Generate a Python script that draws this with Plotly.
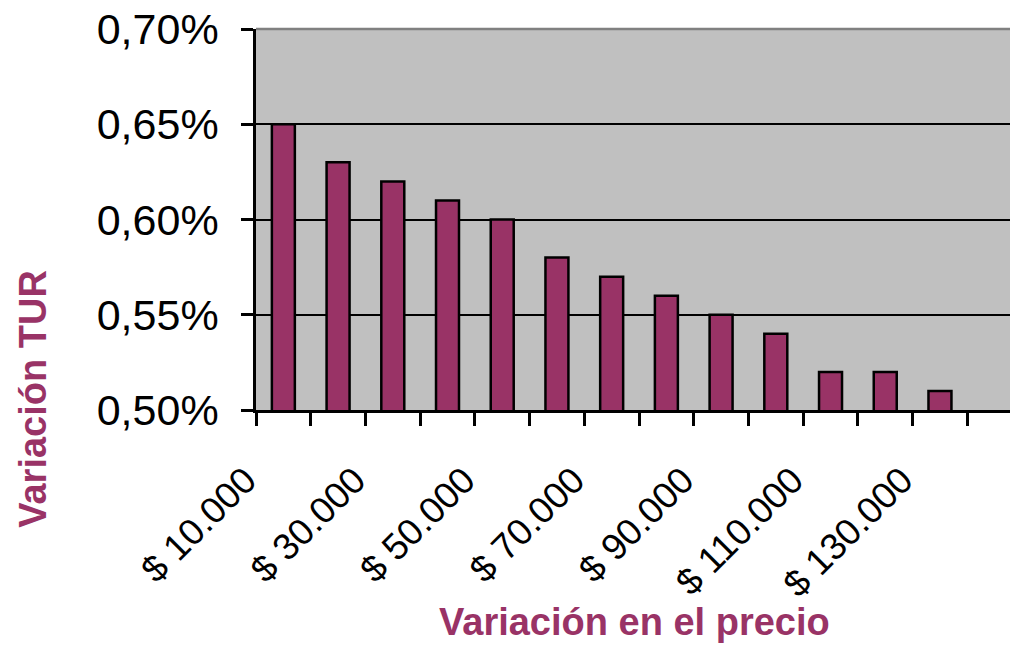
import plotly.graph_objects as go

categories = ["$ 10.000", "$ 20.000", "$ 30.000", "$ 40.000", "$ 50.000", "$ 60.000", "$ 70.000",
              "$ 80.000", "$ 90.000", "$ 100.000", "$ 110.000", "$ 120.000", "$ 130.000"]
tur_values = [0.0065, 0.0063, 0.0062, 0.0061, 0.0060, 0.0058, 0.0057,
              0.0056, 0.0055, 0.0054, 0.0052, 0.0052, 0.0051]
tick_labels = [c if i % 2 == 0 else "" for i, c in enumerate(categories)]
y_ticks = [0.005, 0.0055, 0.006, 0.0065, 0.007]

FONT = "Arial, Liberation Sans, sans-serif"
PLUM = "#993366"

fig = go.Figure()
fig.add_trace(go.Bar(
    x=categories, y=tur_values,
    marker=dict(color=PLUM, line=dict(color="black", width=2.5)),
    width=0.42,
))

fig.update_layout(
    width=1010, height=647,
    margin=dict(l=256, r=0, t=29, b=237, autoexpand=False),
    paper_bgcolor="white", plot_bgcolor="#C0C0C0",
    separators=",.",
    showlegend=False,
    font=dict(family=FONT, color="black"),
    xaxis=dict(
        type="category",
        range=[-0.5, 13.28],
        tickmode="array", tickvals=categories, ticktext=tick_labels,
        tickson="boundaries",
        ticks="outside", ticklen=13, tickwidth=2.5, tickcolor="black",
        tickangle=-45, tickfont=dict(size=37, family=FONT),
        ticklabelshift=-38, ticklabelstandoff=31,
        ticklabeloverflow="allow",
        showline=True, linecolor="black", linewidth=2.5,
        showgrid=False,
    ),
    yaxis=dict(
        range=[0.005, 0.007],
        tickmode="array", tickvals=y_ticks,
        tickformat=".2%",
        ticks="outside", ticklen=12, tickwidth=2.5, tickcolor="black",
        tickfont=dict(size=43, family=FONT),
        ticklabelstandoff=14,
        ticklabeloverflow="allow",
        showline=True, linecolor="black", linewidth=2.5,
        showgrid=True, gridcolor="black", gridwidth=2,
        zeroline=False,
    ),
    shapes=[dict(type="line", xref="paper", yref="paper", x0=0, x1=1, y0=1, y1=1,
                 line=dict(color="#808080", width=2.5))],
    annotations=[
        dict(text="<b>Variación en el precio</b>", xref="paper", yref="paper",
             x=0.502, y=-0.556, xanchor="center", yanchor="middle", showarrow=False,
             font=dict(size=38, color=PLUM, family=FONT)),
        dict(text="<b>Variación TUR</b>", xref="paper", yref="paper",
             x=-0.296, y=0.029, xanchor="center", yanchor="middle", showarrow=False,
             textangle=-90, font=dict(size=38, color=PLUM, family=FONT)),
    ],
)

fig.write_html("out.html", config={"displayModeBar": False},
               post_script="document.body.style.margin='0';")
